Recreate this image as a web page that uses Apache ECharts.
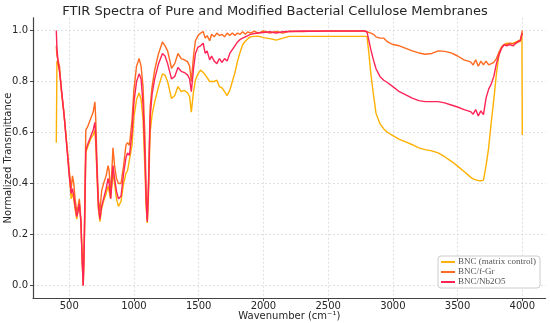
<!DOCTYPE html>
<html>
<head>
<meta charset="utf-8">
<script src="https://cdn.jsdelivr.net/npm/echarts@6/dist/echarts.min.js"></script>
<style>
html,body{margin:0;padding:0;background:#fff;}
#chart{width:550px;height:323px;}
</style>
</head>
<body>
<div id="chart"></div>
<script>
const wavenumbers = [400,405,415,425,440,460,480,500,515,525,535,545,558,568,578,590,600,608,616,628,640,655,670,685,698,705,715,725,737,750,765,785,800,808,820,838,850,865,880,900,920,938,950,965,985,1000,1020,1040,1055,1070,1085,1095,1103,1112,1125,1140,1160,1190,1220,1240,1260,1290,1315,1340,1365,1390,1415,1430,1443,1460,1475,1495,1515,1535,1550,1565,1585,1600,1620,1640,1660,1680,1700,1720,1740,1760,1780,1800,1820,1840,1860,1880,1900,1930,1960,2000,2050,2100,2150,2200,2300,2400,2500,2600,2700,2780,2800,2815,2830,2850,2870,2900,2930,2960,3000,3050,3100,3150,3200,3250,3300,3350,3400,3450,3500,3550,3600,3620,3640,3660,3680,3700,3720,3740,3760,3780,3800,3820,3840,3860,3880,3900,3930,3960,3985,3997,4000];

const bncMatrix = [0.56,0.88,0.87,0.84,0.76,0.67,0.56,0.44,0.34,0.36,0.34,0.30,0.26,0.30,0.32,0.25,0.10,0.00,0.15,0.52,0.54,0.56,0.58,0.59,0.61,0.55,0.42,0.30,0.25,0.30,0.33,0.36,0.39,0.37,0.34,0.44,0.40,0.34,0.31,0.33,0.40,0.44,0.45,0.45,0.55,0.66,0.73,0.755,0.73,0.65,0.45,0.30,0.245,0.35,0.60,0.67,0.72,0.78,0.83,0.825,0.80,0.733,0.745,0.78,0.76,0.765,0.755,0.74,0.68,0.76,0.806,0.83,0.845,0.835,0.826,0.83,0.80,0.793,0.80,0.805,0.78,0.775,0.76,0.745,0.765,0.80,0.835,0.88,0.915,0.945,0.958,0.968,0.975,0.977,0.978,0.972,0.968,0.962,0.97,0.977,0.977,0.977,0.977,0.977,0.977,0.977,0.977,0.91,0.83,0.75,0.675,0.635,0.614,0.60,0.588,0.573,0.563,0.552,0.54,0.533,0.528,0.52,0.505,0.488,0.468,0.447,0.425,0.418,0.414,0.412,0.411,0.413,0.47,0.54,0.64,0.73,0.83,0.905,0.935,0.945,0.95,0.948,0.95,0.957,0.963,0.99,0.59];

const bncFGr = [0.94,0.90,0.90,0.86,0.76,0.67,0.56,0.45,0.38,0.43,0.40,0.34,0.29,0.31,0.34,0.26,0.10,0.00,0.18,0.61,0.62,0.64,0.66,0.68,0.72,0.65,0.47,0.34,0.29,0.37,0.40,0.43,0.47,0.45,0.36,0.54,0.47,0.42,0.40,0.40,0.47,0.55,0.56,0.55,0.65,0.77,0.86,0.89,0.86,0.78,0.58,0.35,0.26,0.40,0.70,0.78,0.845,0.91,0.955,0.94,0.92,0.852,0.87,0.91,0.89,0.885,0.877,0.86,0.80,0.90,0.96,0.98,0.99,0.996,0.97,0.98,0.96,0.985,0.975,0.99,0.98,0.985,0.975,0.99,0.98,0.99,0.98,0.99,0.985,0.995,0.985,0.995,0.99,0.998,0.99,0.998,0.99,0.996,0.99,0.997,0.996,0.998,0.998,0.998,0.998,0.998,0.995,0.993,0.99,0.985,0.975,0.97,0.97,0.955,0.945,0.94,0.93,0.92,0.912,0.907,0.91,0.92,0.918,0.912,0.90,0.885,0.877,0.865,0.885,0.86,0.88,0.865,0.88,0.865,0.87,0.875,0.89,0.915,0.935,0.945,0.945,0.95,0.948,0.952,0.958,0.99,1.0];

const bncNb2O5 = [1.00,0.93,0.87,0.84,0.77,0.67,0.55,0.43,0.36,0.38,0.35,0.31,0.27,0.29,0.32,0.25,0.10,0.00,0.16,0.53,0.55,0.57,0.59,0.61,0.64,0.58,0.44,0.31,0.26,0.31,0.34,0.38,0.42,0.40,0.34,0.47,0.42,0.37,0.34,0.35,0.44,0.50,0.52,0.51,0.60,0.72,0.80,0.83,0.81,0.71,0.50,0.32,0.25,0.38,0.66,0.75,0.81,0.87,0.91,0.90,0.87,0.81,0.82,0.855,0.84,0.835,0.825,0.81,0.76,0.85,0.91,0.935,0.94,0.95,0.91,0.92,0.885,0.90,0.88,0.87,0.89,0.875,0.89,0.88,0.91,0.925,0.94,0.955,0.965,0.97,0.975,0.98,0.985,0.988,0.99,0.992,0.995,0.99,0.995,0.996,0.998,0.997,0.998,0.998,0.998,0.998,0.995,0.96,0.925,0.885,0.85,0.82,0.805,0.795,0.78,0.76,0.748,0.735,0.725,0.721,0.721,0.721,0.716,0.708,0.70,0.69,0.682,0.672,0.69,0.665,0.685,0.67,0.735,0.77,0.79,0.82,0.87,0.905,0.93,0.945,0.94,0.945,0.94,0.955,0.962,0.985,0.99];

const seriesNames = ['BNC (matrix control)', 'BNC/f-Gr', 'BNC/Nb2O5'];
const xTicks = [500,1000,1500,2000,2500,3000,3500,4000];
const yTicks = [0,0.2,0.4,0.6,0.8,1.0];

const colors = ['#FFB000', '#FF6A1E', '#FF2356'];
const valueSets = [bncMatrix, bncFGr, bncNb2O5];

const chart = echarts.init(document.getElementById('chart'), null, {renderer: 'canvas'});
const font = 'DejaVu Sans';
chart.setOption({
  animation: false,
  backgroundColor: '#ffffff',
  title: {
    text: 'FTIR Spectra of Pure and Modified Bacterial Cellulose Membranes',
    left: 'center', top: 0,
    textStyle: {fontFamily: font, fontSize: 13, fontWeight: 'normal', color: '#262626'}
  },
  grid: {left: 33, right: 4.4, top: 17.75, bottom: 24.75, containLabel: false, outerBoundsMode: 'none'},
  legend: {
    orient: 'vertical', right: 10, top: 256,
    icon: 'rect',
    itemWidth: 14, itemHeight: 2, itemGap: 0,
    padding: [1, 4, 1, 3],
    backgroundColor: '#ffffff', borderColor: '#cccccc', borderWidth: 1, borderRadius: 3,
    textStyle: {fontFamily: 'Liberation Serif', fontSize: 9, lineHeight: 10, color: '#555555', padding: [0,0,0,-2]},
    data: seriesNames
  },
  xAxis: {
    type: 'value', min: 220, max: 4180,
    name: 'Wavenumber (cm\u207B\u00B9)', nameLocation: 'middle', nameGap: 13, nameMoveOverlap: false,
    nameTextStyle: {fontFamily: font, fontSize: 10, color: '#262626'},
    axisLine: {show: true, onZero: false, lineStyle: {color: '#444', width: 1.2}},
    axisTick: {show: true, length: 3, customValues: xTicks, lineStyle: {color: '#444'}},
    axisLabel: {customValues: xTicks, fontFamily: font, fontSize: 10, color: '#262626', margin: 3,
      formatter: v => String(Math.round(v))},
    splitLine: {show: true, lineStyle: {color: '#d9d9d9', type: [2, 2], width: 0.8}}
  },
  yAxis: {
    type: 'value', min: -0.05, max: 1.05,
    name: 'Normalized Transmittance', nameLocation: 'middle', nameGap: 20, nameMoveOverlap: false,
    nameTextStyle: {fontFamily: font, fontSize: 10, color: '#262626'},
    axisLine: {show: true, lineStyle: {color: '#444', width: 1.2}},
    axisTick: {show: true, length: 3, customValues: yTicks, lineStyle: {color: '#444'}},
    axisLabel: {customValues: yTicks, fontFamily: font, fontSize: 10, color: '#262626', margin: 5,
      formatter: v => v.toFixed(1)},
    splitLine: {show: true, lineStyle: {color: '#d9d9d9', type: [2, 2], width: 0.8}}
  },
  series: seriesNames.map((name, i) => ({
    name: name, type: 'line', symbol: 'none', showSymbol: false,
    color: colors[i],
    lineStyle: {color: colors[i], width: 1.4},
    data: wavenumbers.map((w, j) => [w, valueSets[i][j]])
  }))
});
</script>
</body>
</html>
